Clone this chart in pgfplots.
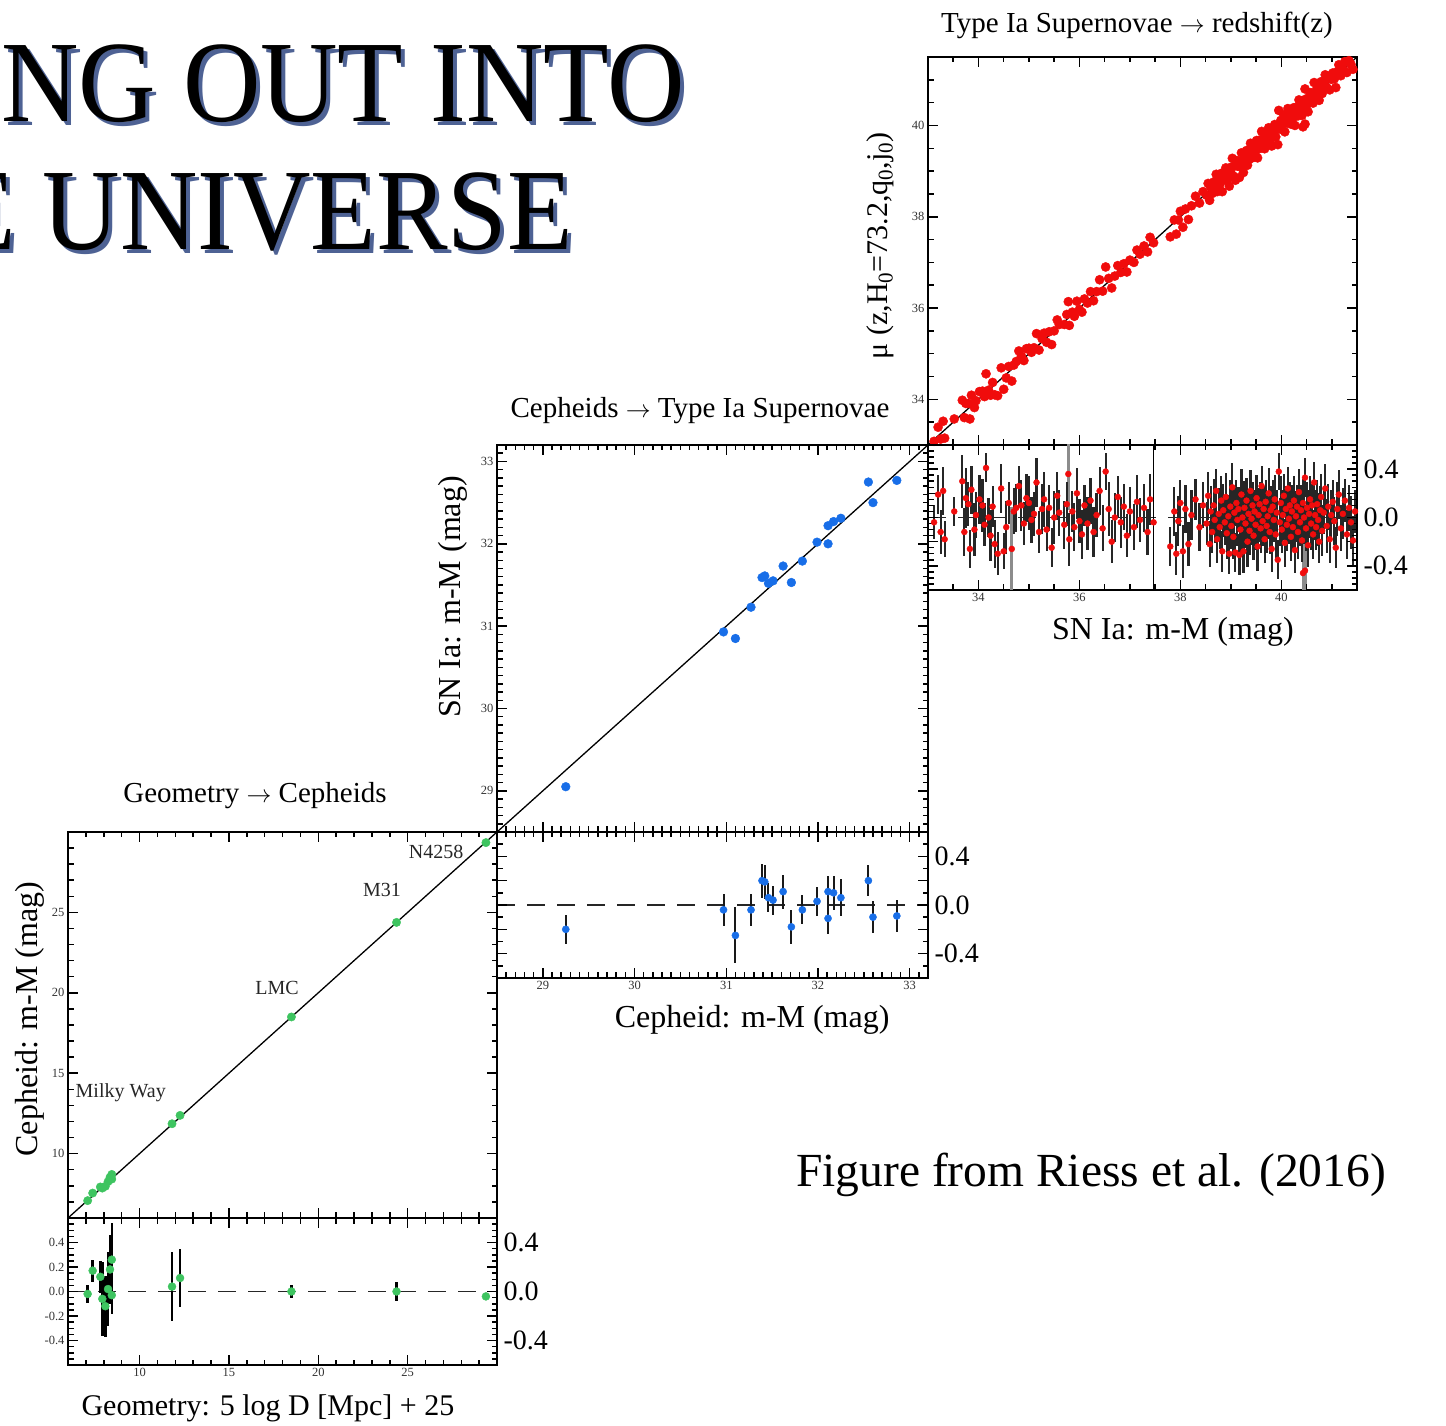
\documentclass[border=0pt]{standalone}
\usepackage{fontspec}
\setmainfont{Liberation Serif}
\usepackage{pgfplots}
\usepackage{pgfplotstable}
\pgfplotsset{compat=1.18}

\newcommand{\fs}[1]{\fontsize{#1}{#1}\selectfont}

\definecolor{geogreen}{RGB}{62,196,96}
\definecolor{cephblue}{RGB}{24,110,232}
\definecolor{snred}{RGB}{240,12,12}
\definecolor{shadowblue}{RGB}{78,98,148}

\tikzset{tickline/.style={black, line width=1.5pt}}
% inward tick marks on both horizontal edges: list, y of bottom edge, y of top edge, length
\newcommand{\xticksat}[4]{%
  \pgfplotsinvokeforeach{#1}{%
    \draw[tickline] (axis cs:##1,#2) -- ++(0pt,#4);
    \draw[tickline] (axis cs:##1,#3) -- ++(0pt,-#4);}}
% inward tick marks on both vertical edges: list, x of left edge, x of right edge, length
\newcommand{\yticksat}[4]{%
  \pgfplotsinvokeforeach{#1}{%
    \draw[tickline] (axis cs:#2,##1) -- ++(#4,0pt);
    \draw[tickline] (axis cs:#3,##1) -- ++(-#4,0pt);}}

% ---------- Geometry -> Cepheids ----------
\pgfplotstableread{
x y r e
7.10 7.08 -0.02 0.07
7.38 7.55 0.17 0.09
7.81 7.93 0.12 0.13
7.92 7.86 -0.06 0.30
8.09 7.97 -0.12 0.25
8.24 8.26 0.02 0.30
8.35 8.53 0.18 0.28
8.45 8.71 0.26 0.30
8.45 8.42 -0.03 0.15
11.82 11.86 0.04 0.28
12.27 12.38 0.11 0.24
18.50 18.50 0.00 0.05
24.38 24.38 0.00 0.08
29.38 29.34 -0.04 0.03
}\geodata

% ---------- Cepheids -> SN Ia ----------
\pgfplotstableread{
x y r e
29.25 29.05 -0.20 0.12
30.97 30.93 -0.04 0.13
31.10 30.85 -0.25 0.23
31.27 31.23 -0.04 0.13
31.39 31.59 0.20 0.14
31.42 31.61 0.19 0.14
31.46 31.52 0.06 0.12
31.51 31.55 0.04 0.12
31.62 31.73 0.11 0.14
31.71 31.53 -0.18 0.14
31.83 31.79 -0.04 0.12
31.99 32.02 0.03 0.12
32.11 32.22 0.11 0.13
32.11 32.00 -0.11 0.13
32.17 32.27 0.10 0.14
32.25 32.31 0.06 0.15
32.55 32.75 0.20 0.13
32.60 32.50 -0.10 0.13
32.86 32.77 -0.09 0.13
}\cephdata

% ---------- SN Ia -> redshift ----------
\pgfplotstableread{
x mu r e
33.12 33.08 -0.04 0.14
33.20 33.39 0.19 0.16
33.25 33.13 -0.12 0.18
33.30 33.52 0.22 0.20
33.33 33.15 -0.18 0.15
33.52 33.57 0.05 0.12
33.68 33.98 0.30 0.22
33.72 33.60 -0.12 0.20
33.75 33.91 0.16 0.25
33.80 33.91 0.11 0.18
33.83 33.57 -0.26 0.16
33.86 34.09 0.23 0.20
33.92 33.82 -0.10 0.22
33.95 33.97 0.02 0.19
34.02 34.17 0.15 0.20
34.08 34.18 0.10 0.22
34.12 34.06 -0.06 0.18
34.15 34.56 0.41 0.12
34.20 34.20 0.00 0.16
34.24 34.09 -0.15 0.21
34.28 34.37 0.09 0.17
34.32 34.10 -0.22 0.20
34.38 34.08 -0.30 0.18
34.45 34.69 0.24 0.20
34.50 34.22 -0.28 0.15
34.55 34.47 -0.08 0.22
34.60 34.72 0.12 0.17
34.70 34.75 0.05 0.19
34.75 34.83 0.08 0.20
34.80 35.06 0.26 0.17
34.85 34.95 0.10 0.21
34.90 34.85 -0.05 0.18
34.95 35.11 0.16 0.20
35.00 35.12 0.12 0.22
35.05 35.03 -0.02 0.19
35.10 35.13 0.03 0.18
35.15 35.44 0.29 0.20
35.20 35.08 -0.12 0.17
35.26 35.33 0.07 0.21
35.30 35.45 0.15 0.23
35.35 35.25 -0.10 0.18
35.40 35.48 0.08 0.19
35.45 35.20 -0.25 0.16
35.50 35.50 0.00 0.22
35.56 35.74 0.18 0.20
35.60 35.64 0.04 0.19
35.70 35.64 -0.06 0.20
35.75 35.86 0.11 0.18
35.80 35.62 -0.18 0.22
35.86 35.91 0.05 0.17
35.90 35.82 -0.08 0.20
35.95 36.15 0.20 0.21
36.00 35.97 -0.03 0.18
36.05 35.91 -0.14 0.20
36.10 36.20 0.10 0.17
36.16 36.11 -0.05 0.22
36.22 36.36 0.14 0.19
36.28 36.16 -0.12 0.21
36.34 36.36 0.02 0.18
36.40 36.62 0.22 0.20
36.46 36.37 -0.09 0.19
36.52 36.90 0.38 0.15
36.58 36.65 0.07 0.22
36.64 36.44 -0.20 0.18
36.70 36.70 0.00 0.20
36.76 36.93 0.17 0.17
36.82 36.78 -0.04 0.21
36.88 36.97 0.09 0.19
36.94 36.79 -0.15 0.18
37.00 37.05 0.05 0.20
37.08 37.00 -0.08 0.19
37.14 37.27 0.13 0.22
37.20 37.18 -0.02 0.18
37.28 37.36 0.08 0.20
37.35 37.23 -0.12 0.19
37.40 37.55 0.15 0.21
37.80 37.56 -0.24 0.16
37.88 37.93 0.05 0.20
37.92 37.62 -0.30 0.18
37.96 37.93 -0.03 0.21
38.00 38.12 0.12 0.19
38.05 37.77 -0.28 0.22
38.10 38.17 0.07 0.20
38.16 37.94 -0.22 0.18
38.22 38.24 0.02 0.21
38.30 38.45 0.15 0.17
38.38 38.30 -0.08 0.20
38.45 38.55 0.10 0.19
38.52 38.47 -0.05 0.18
38.55 38.73 0.18 0.20
38.58 38.36 -0.22 0.19
38.60 38.65 0.05 0.21
38.63 38.51 -0.12 0.17
38.66 38.76 0.10 0.22
38.68 38.66 -0.02 0.19
38.71 38.93 0.22 0.18
38.73 38.55 -0.18 0.20
38.76 38.79 0.03 0.21
38.78 38.70 -0.08 0.18
38.81 38.95 0.14 0.20
38.83 38.55 -0.28 0.17
38.85 38.91 0.06 0.22
38.88 38.84 -0.04 0.19
38.90 39.07 0.17 0.20
38.92 38.79 -0.13 0.21
38.95 38.96 0.01 0.18
38.97 38.67 -0.30 0.17
38.99 39.08 0.09 0.22
39.01 38.94 -0.07 0.19
39.03 39.28 0.25 0.20
39.05 38.89 -0.16 0.18
39.07 39.11 0.04 0.21
39.09 38.80 -0.29 0.16
39.11 39.23 0.12 0.19
39.13 39.11 -0.02 0.22
39.15 39.22 0.07 0.18
39.17 38.86 -0.31 0.17
39.19 39.09 -0.10 0.20
39.21 39.40 0.19 0.21
39.23 39.23 0.00 0.19
39.25 38.97 -0.28 0.18
39.27 39.35 0.08 0.22
39.29 39.24 -0.05 0.20
39.31 39.45 0.14 0.19
39.33 39.13 -0.20 0.21
39.35 39.38 0.03 0.18
39.37 39.26 -0.11 0.20
39.39 39.61 0.22 0.17
39.41 39.40 -0.01 0.22
39.43 39.53 0.10 0.19
39.45 39.30 -0.15 0.20
39.47 39.52 0.05 0.18
39.49 39.43 -0.06 0.21
39.51 39.67 0.16 0.19
39.53 39.29 -0.24 0.20
39.55 39.57 0.02 0.22
39.57 39.68 0.11 0.18
39.59 39.50 -0.09 0.20
39.61 39.87 0.26 0.17
39.63 39.60 -0.03 0.21
39.65 39.72 0.07 0.19
39.67 39.49 -0.18 0.20
39.69 39.82 0.13 0.18
39.71 39.64 -0.07 0.22
39.73 39.74 0.01 0.19
39.75 39.95 0.20 0.21
39.77 39.65 -0.12 0.18
39.79 39.85 0.06 0.20
39.81 39.55 -0.26 0.19
39.83 39.92 0.09 0.22
39.85 39.83 -0.02 0.18
39.87 40.02 0.15 0.20
39.89 39.75 -0.14 0.21
39.91 39.95 0.04 0.19
39.93 39.58 -0.35 0.16
39.95 40.33 0.38 0.15
39.97 39.93 -0.04 0.20
39.99 40.11 0.12 0.22
40.01 39.91 -0.10 0.19
40.03 40.05 0.02 0.21
40.05 40.23 0.18 0.18
40.07 39.86 -0.21 0.20
40.09 40.16 0.07 0.19
40.11 40.05 -0.06 0.22
40.13 40.37 0.24 0.18
40.15 40.14 -0.01 0.21
40.17 40.27 0.10 0.19
40.19 40.03 -0.16 0.20
40.21 40.26 0.05 0.22
40.23 40.15 -0.08 0.18
40.25 40.39 0.14 0.20
40.27 40.00 -0.27 0.19
40.29 40.30 0.01 0.21
40.31 40.40 0.09 0.18
40.33 40.21 -0.12 0.22
40.35 40.56 0.21 0.19
40.37 40.33 -0.04 0.20
40.39 40.45 0.06 0.21
40.41 40.22 -0.19 0.18
40.43 40.55 0.12 0.20
40.45 40.45 0.00 0.22
40.47 40.80 0.33 0.16
40.49 40.40 -0.09 0.19
40.51 40.59 0.08 0.21
40.53 40.30 -0.23 0.18
40.55 40.58 0.03 0.20
40.57 40.72 0.15 0.19
40.59 40.54 -0.05 0.22
40.61 40.71 0.10 0.18
40.63 40.49 -0.14 0.20
40.65 40.94 0.29 0.17
40.67 40.69 0.02 0.21
40.69 40.61 -0.08 0.19
40.71 40.82 0.11 0.20
40.73 40.71 -0.02 0.22
40.75 40.55 -0.20 0.18
40.77 40.83 0.06 0.20
40.79 40.96 0.17 0.19
40.81 40.70 -0.11 0.21
40.84 40.88 0.04 0.18
40.87 41.11 0.24 0.20
40.90 40.83 -0.07 0.22
40.93 41.02 0.09 0.19
40.96 40.78 -0.18 0.20
40.99 41.01 0.02 0.21
41.02 41.15 0.13 0.18
41.05 41.02 -0.03 0.20
41.08 40.83 -0.25 0.17
41.11 41.18 0.07 0.22
41.14 41.33 0.19 0.20
41.18 41.09 -0.09 0.19
41.22 41.25 0.03 0.21
41.26 41.40 0.14 0.18
41.30 41.16 -0.14 0.20
41.34 41.42 0.08 0.19
41.38 41.34 -0.04 0.22
41.42 41.23 -0.19 0.20
41.46 41.51 0.05 0.18
}\sndata

% supernovae with very wide error bars
\pgfplotstableread{
x mu r e
34.66 34.40 -0.26 0.35
35.78 36.14 0.36 0.30
40.43 39.97 -0.46 0.25
40.47 40.03 -0.44 0.25
}\snwide

\pgfplotstableread{
x mu r e
37.47 37.43 -0.04 0.90
}\snthin

\pgfplotsset{
  panel/.style={
    scale only axis, anchor=south west,
    axis line style={line width=1.8pt},
    tick align=inside, tick pos=both,
    major tick length=10pt, minor tick length=5.5pt,
    every tick/.style={black, line width=1.5pt},
    ticklabel style={font=\fs{12.5}, text=black!80},
    label style={font=\fs{32}},
  },
  rightlabels/.style={
    scale only axis, anchor=south west,
    axis x line=none, axis y line*=right,
    y axis line style={draw=none},
    major tick length=0pt, minor tick length=0pt,
    ytick={-0.4,0,0.4}, yticklabels={-0.4,0.0,0.4},
    yticklabel style={font=\fs{28}, xshift=3pt},
  },
  resbars/.style={
    only marks, mark=*,
    error bars/y dir=both, error bars/y explicit, error bars/error mark=none,
  },
}

\begin{document}
\begin{tikzpicture}
\useasboundingbox (0pt,0pt) rectangle (1446pt,1425pt);
\clip (0pt,0pt) rectangle (1446pt,1425pt);

% slide heading
\node[anchor=base west, xscale=0.925, text=shadowblue, font=\fs{116}] at (2pt,1299pt) {NG OUT INTO};
\node[anchor=base west, xscale=0.925, font=\fs{116}] at (-2pt,1303pt) {NG OUT INTO};
\node[anchor=base west, xscale=0.925, text=shadowblue, font=\fs{116}] at (-49pt,1171pt) {E UNIVERSE};
\node[anchor=base west, xscale=0.925, font=\fs{116}] at (-53pt,1175pt) {E UNIVERSE};

% ===== Geometry -> Cepheids =====
\begin{axis}[panel, at={(68pt,207pt)}, width=429pt, height=386pt,
  xmin=6, xmax=30, ymin=6, ymax=30,
  xtick={10,15,20,25}, xticklabels={},
  ytick={10,15,20,25}, yticklabels={10,15,20,25},
  minor x tick num=4, minor y tick num=4,
  ylabel={Cepheid: m-M (mag)},
  ylabel style={at={(axis description cs:-0.089,0.515)}, anchor=center},
]
\addplot[black, line width=1.3pt] coordinates {(6,6) (30,30)};
\addplot[only marks, mark=*, mark size=4.2pt, geogreen] table[x=x, y=y] {\geodata};
\node[font=\fs{20}, text=black!85] at (axis cs:8.95,13.77) {Milky Way};
\node[font=\fs{20}, text=black!85] at (axis cs:17.69,20.30) {LMC};
\node[font=\fs{20}, text=black!85] at (axis cs:23.57,26.39) {M31};
\node[font=\fs{20}, text=black!85] at (axis cs:26.59,28.76) {N4258};
\xticksat{10,15,20,25}{6}{30}{10pt}
\xticksat{7,8,9,11,12,13,14,16,17,18,19,21,22,23,24,26,27,28,29}{6}{30}{5.5pt}
\yticksat{10,15,20,25}{6}{30}{10pt}
\yticksat{7,8,9,11,12,13,14,16,17,18,19,21,22,23,24,26,27,28,29}{6}{30}{5.5pt}
\end{axis}

\begin{axis}[panel, at={(68pt,60pt)}, width=429pt, height=147pt,
  xmin=6, xmax=30, ymin=-0.6, ymax=0.6,
  xtick={10,15,20,25}, xticklabels={10,15,20,25},
  ytick={-0.4,-0.2,0,0.2,0.4}, yticklabels={-0.4,-0.2,0.0,0.2,0.4},
  minor x tick num=4, minor y tick num=3,
  xlabel={Geometry: 5 log D [Mpc] + 25},
  xlabel style={at={(axis description cs:0.466,-0.293)}, anchor=center, font=\fs{30}},
]
\addplot[black!85, line width=1.5pt, dash pattern=on 18pt off 12pt] coordinates {(6,0) (30,0)};
\addplot[resbars, geogreen, mark size=4pt,
  error bars/error bar style={black, line width=2.4pt}] table[x=x, y=r, y error=e] {\geodata};
\xticksat{10,15,20,25}{-0.6}{0.6}{10pt}
\xticksat{7,8,9,11,12,13,14,16,17,18,19,21,22,23,24,26,27,28,29}{-0.6}{0.6}{5.5pt}
\yticksat{-0.4,-0.2,0,0.2,0.4}{6}{30}{10pt}
\yticksat{-0.55,-0.5,-0.45,-0.35,-0.3,-0.25,-0.15,-0.1,-0.05,0.05,0.1,0.15,0.25,0.3,0.35,0.45,0.5,0.55}{6}{30}{5.5pt}
\end{axis}
\begin{axis}[rightlabels, at={(68pt,60pt)}, width=429pt, height=147pt,
  xmin=6, xmax=30, ymin=-0.6, ymax=0.6]
\node[rotate=90, font=\fs{28}] at (axis description cs:1.17,0.49) {Δ mag};
\end{axis}

% ===== Cepheids -> SN Ia =====
\begin{axis}[panel, at={(497pt,593pt)}, width=431pt, height=387pt,
  xmin=28.5, xmax=33.2, ymin=28.5, ymax=33.2,
  xtick={29,30,31,32,33}, xticklabels={},
  ytick={29,30,31,32,33}, yticklabels={29,30,31,32,33},
  minor x tick num=9, minor y tick num=9,
  ylabel={SN Ia: m-M (mag)},
  ylabel style={at={(axis description cs:-0.102,0.607)}, anchor=center},
]
\addplot[black, line width=1.3pt] coordinates {(28.5,28.5) (33.2,33.2)};
\addplot[only marks, mark=*, mark size=4.4pt, cephblue] table[x=x, y=y] {\cephdata};
\xticksat{29,30,31,32,33}{28.5}{33.2}{10pt}
\xticksat{28.6,28.7,28.8,28.9,29.1,29.2,29.3,29.4,29.5,29.6,29.7,29.8,29.9,30.1,30.2,30.3,30.4,30.5,30.6,30.7,30.8,30.9,31.1,31.2,31.3,31.4,31.5,31.6,31.7,31.8,31.9,32.1,32.2,32.3,32.4,32.5,32.6,32.7,32.8,32.9,33.1}{28.5}{33.2}{5.5pt}
\yticksat{29,30,31,32,33}{28.5}{33.2}{10pt}
\yticksat{28.6,28.7,28.8,28.9,29.1,29.2,29.3,29.4,29.5,29.6,29.7,29.8,29.9,30.1,30.2,30.3,30.4,30.5,30.6,30.7,30.8,30.9,31.1,31.2,31.3,31.4,31.5,31.6,31.7,31.8,31.9,32.1,32.2,32.3,32.4,32.5,32.6,32.7,32.8,32.9,33.1}{28.5}{33.2}{5.5pt}
\end{axis}

\begin{axis}[panel, at={(497pt,447pt)}, width=431pt, height=146pt,
  xmin=28.5, xmax=33.2, ymin=-0.6, ymax=0.6,
  xtick={29,30,31,32,33}, xticklabels={29,30,31,32,33},
  ytick={-0.4,-0.2,0,0.2,0.4}, yticklabels={},
  minor x tick num=9, minor y tick num=1,
  xlabel={Cepheid: m-M (mag)},
  xlabel style={at={(axis description cs:0.592,-0.288)}, anchor=center},
]
\addplot[black!85, line width=1.5pt, dash pattern=on 18pt off 12pt] coordinates {(28.5,0) (33.2,0)};
\addplot[resbars, cephblue, mark size=3.6pt,
  error bars/error bar style={black!90, line width=2pt}] table[x=x, y=r, y error=e] {\cephdata};
\xticksat{29,30,31,32,33}{-0.6}{0.6}{10pt}
\xticksat{28.6,28.7,28.8,28.9,29.1,29.2,29.3,29.4,29.5,29.6,29.7,29.8,29.9,30.1,30.2,30.3,30.4,30.5,30.6,30.7,30.8,30.9,31.1,31.2,31.3,31.4,31.5,31.6,31.7,31.8,31.9,32.1,32.2,32.3,32.4,32.5,32.6,32.7,32.8,32.9,33.1}{-0.6}{0.6}{5.5pt}
\yticksat{-0.4,-0.2,0,0.2,0.4}{28.5}{33.2}{10pt}
\yticksat{-0.5,-0.3,-0.1,0.1,0.3,0.5}{28.5}{33.2}{5.5pt}
\end{axis}
\begin{axis}[rightlabels, at={(497pt,447pt)}, width=431pt, height=146pt,
  xmin=28.5, xmax=33.2, ymin=-0.6, ymax=0.6]
\node[rotate=90, font=\fs{28}] at (axis description cs:1.16,0.5) {Δ mag};
\end{axis}

% ===== SN Ia -> redshift =====
\begin{axis}[panel, at={(928pt,980pt)}, width=429pt, height=388pt,
  xmin=33, xmax=41.5, ymin=33, ymax=41.5,
  xtick={34,36,38,40}, xticklabels={},
  ytick={34,36,38,40}, yticklabels={34,36,38,40},
  minor x tick num=3, minor y tick num=3,
  ylabel={μ (z,H\textsubscript{0}=73.2,q\textsubscript{0},j\textsubscript{0})},
  ylabel style={at={(axis description cs:-0.112,0.513)}, anchor=center, font=\fs{30}},
]
\addplot[only marks, mark=*, mark size=4.6pt, snred] table[x=x, y=mu] {\sndata};
\addplot[only marks, mark=*, mark size=4.6pt, snred] table[x=x, y=mu] {\snwide};
\addplot[only marks, mark=*, mark size=4.6pt, snred] table[x=x, y=mu] {\snthin};
\addplot[black, line width=1.3pt] coordinates {(33,33) (41.5,41.5)};
\xticksat{34,36,38,40}{33}{41.5}{10pt}
\xticksat{33.5,34.5,35,35.5,36.5,37,37.5,38.5,39,39.5,40.5,41}{33}{41.5}{5.5pt}
\yticksat{34,36,38,40}{33}{41.5}{10pt}
\yticksat{33.5,34.5,35,35.5,36.5,37,37.5,38.5,39,39.5,40.5,41}{33}{41.5}{5.5pt}
\end{axis}

\begin{axis}[panel, at={(928pt,835pt)}, width=429pt, height=145pt,
  xmin=33, xmax=41.5, ymin=-0.6, ymax=0.6,
  xtick={34,36,38,40}, xticklabels={34,36,38,40},
  ytick={-0.4,-0.2,0,0.2,0.4}, yticklabels={},
  minor x tick num=3, minor y tick num=3,
  xlabel={SN Ia: m-M (mag)},
  xlabel style={at={(axis description cs:0.571,-0.29)}, anchor=center},
]
\addplot[black!85, line width=1.5pt, dash pattern=on 18pt off 12pt] coordinates {(33,0) (41.5,0)};
\addplot[resbars, snred, mark size=3pt,
  error bars/error bar style={black!45, line width=3pt}] table[x=x, y=r, y error=e] {\snwide};
\addplot[resbars, snred, mark size=3pt,
  error bars/error bar style={black, line width=1.1pt}] table[x=x, y=r, y error=e] {\snthin};
\addplot[resbars, snred, mark size=3pt,
  error bars/error bar style={black!85, line width=2.2pt}] table[x=x, y=r, y error=e] {\sndata};
\xticksat{34,36,38,40}{-0.6}{0.6}{10pt}
\xticksat{33.5,34.5,35,35.5,36.5,37,37.5,38.5,39,39.5,40.5,41}{-0.6}{0.6}{5.5pt}
\yticksat{-0.4,-0.2,0,0.2,0.4}{33}{41.5}{10pt}
\yticksat{-0.55,-0.5,-0.45,-0.35,-0.3,-0.25,-0.15,-0.1,-0.05,0.05,0.1,0.15,0.25,0.3,0.35,0.45,0.5,0.55}{33}{41.5}{5.5pt}
\end{axis}
\begin{axis}[rightlabels, at={(928pt,835pt)}, width=429pt, height=145pt,
  xmin=33, xmax=41.5, ymin=-0.6, ymax=0.6]
\node[rotate=90, font=\fs{28}] at (axis description cs:1.17,0.51) {Δ mag};
\end{axis}

% panel headings
\node[font=\fs{29}] at (255pt,629pt) {Geometry $\rightarrow$ Cepheids};
\node[font=\fs{29}] at (700pt,1014pt) {Cepheids $\rightarrow$ Type Ia Supernovae};
\node[font=\fs{29}] at (1137pt,1400pt) {Type Ia Supernovae $\rightarrow$ redshift(z)};

\node[font=\fs{47.5}] at (1091pt,250pt) {Figure from Riess et al. (2016)};
\end{tikzpicture}
\end{document}
